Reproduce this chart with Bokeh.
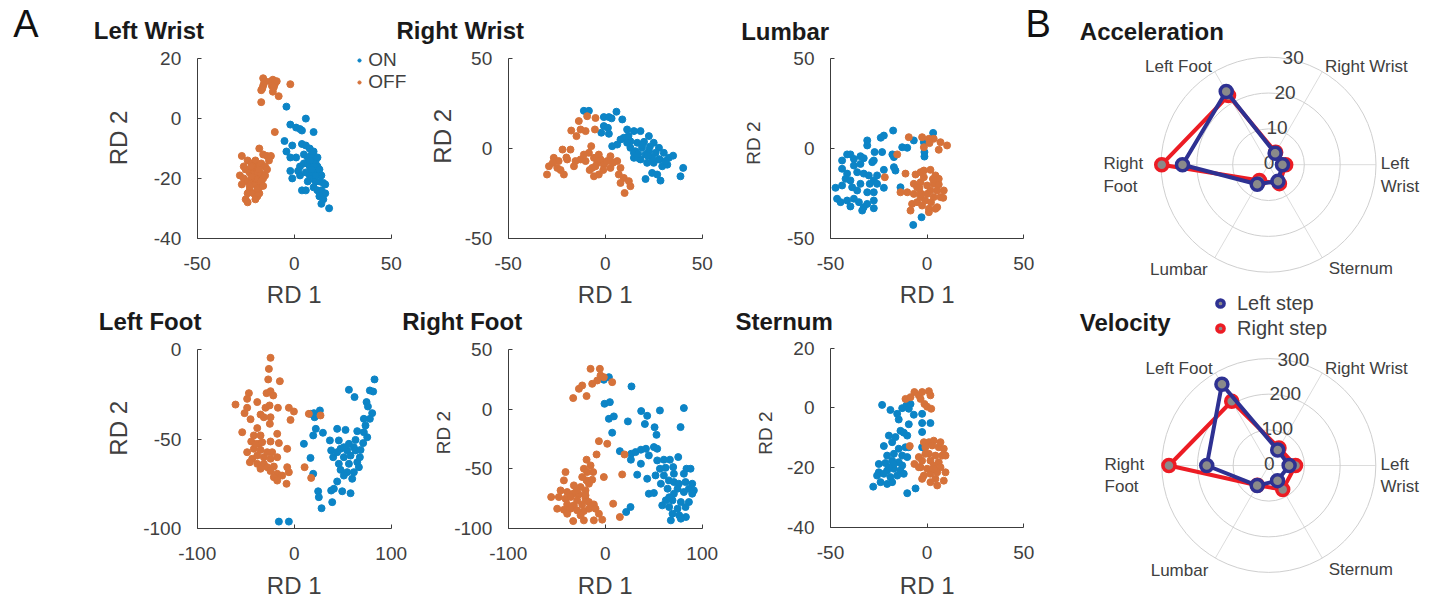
import numpy as np
from bokeh.plotting import figure
from bokeh.models import (Range1d, FixedTicker, Label, Legend, LegendItem, LinearAxis)
from bokeh.embed import file_html
from bokeh.resources import INLINE
from bokeh.core.properties import value

# ---------------- data: panel A (RD scatter) ----------------
lw_on_x = [-4, 6, -2, 1, 4, 3, 10, -5, -1, 4, 6, 8, -4, -2, 1, 5, 7, 9, 10, 3, 5, 7, 8, 10, 11, 12, 2, -2, -1, 3, 6, 8, 10, 12, 14, 9, 11, 13, 15, 4, 6, 10, 12, 14, 16, 13, 15, 14, 18, 10, 12, 9, 11, 7, 16, 13, 8]
lw_on_y = [4, 0, -2, -3, -4, -3.5, -4.5, -7.5, -9, -8.5, -9, -10, -11, -13, -13, -12, -13, -12, -11, -16, -15, -15, -16, -14, -14.5, -16, -17.5, -17.5, -20, -19, -18, -19, -18, -18.5, -19, -20, -21, -21, -21.5, -24, -24, -23, -24, -24, -25, -26, -27, -28.5, -30, -16, -13, -17, -19, -21, -22, -17, -14]
lw_off_x = [-16, -15.5, -16, -16.5, -17, -12, -11, -10, -10, -11.5, -9, -11, -8, -17, -2, -15, -10.5, -10,
            -18, -16, -14, -12, -13, -27, -24, -22, -20, -19, -17, -15, -14, -25, -23, -21, -19, -17, -16, -28, -26, -24, -22, -20, -18, -23, -21, -19, -25, -24, -18, -20, -22, -26, -17, -21, -23, -19, -15, -27, -20, -16, -24, -22, -18]
lw_off_y = [13.5, 12, 11, 10, 9.5, 12.5, 13, 12.5, 11.5, 11, 12.5, 9, 7.5, 5.5, 11.5, 12.5, 10.5, -4.5,
            -10, -12, -12.5, -12.5, -14, -12.5, -14, -15, -14, -16, -15, -16, -17, -17, -18, -18, -19, -18.5, -20, -19, -20, -21, -21.5, -22, -23, -24, -25, -26, -27, -28, -25, -20, -19.5, -16, -21, -16.5, -22.5, -23.5, -19, -22, -27, -22.5, -25, -16, -17]

rw_on_x = [-11, -8.4, -0.7, 1.9, 5.8, 3.3, 8.8, -0.7, 1.4, -2, 1.9, 11.3, 14.8, 18.2, 22.5, 3.6, 6.2, 9.6, 13, 16.5, 20, 25, 27.7, 13, 15.6, 19, 22.5, 26, 30.2, 32.8, 14.8, 18.2, 21.6, 25, 29.4, 32, 40.2, 38.8, 24.2, 26.8, 20.8, 28.5, 16.8, 11.3, 20.8, 24.2, 27.7, 14.8, 7.9, 17, 22, 28, 31, 19, 23, 12, 35]
rw_on_y = [21, 21, 17.5, 17.5, 20.5, 16.8, 16.2, 12.5, 11.5, 8.8, 8.2, 10.6, 9.7, 9.7, 6.9, 1.3, 2.2, 6, 4, 3.2, 3.7, 3.2, 0.4, 0.4, -1.5, 0.4, -1.5, -2.4, -2.4, -5.2, -5.2, -6.1, -8, -8, -9.9, -9, -10.8, -15.5, -13.6, -14.5, -17, -17.9, -5.2, 3.2, -3.4, -5.2, -6.1, -2.4, 5, -3, -4, -6, -7, 2, 1, 7, -4]
rw_off_x = [-9.3, -13.6, -5, -17.5, -12.7, -10.1, -14.8, -5.3, -7.2, -22, -17.9, -26.5, -24, -29, -24.7, -30, -21.3, -19.6, -16.1, -12.7, -10.1, -8.4, -5.8, -4.1, -2.4, -0.7, 2.7, 2.7, 6.2, 7.9, -6.7, -5.8, -3.3, 7, 9.6, 7.9, 13, 10, 12.2, -11, -5, -3.3, 1, -15.3, -27, -23, -8, -1, 4, -20]
rw_off_y = [18, 15.3, 17, 10, 10.6, 9.7, 6.9, 10.6, 1.3, -0.6, -0.6, -5.2, -7, -9.9, -10.8, -14.5, -14.5, -6.1, -9.9, -6.1, -7, -2.4, -5.2, -8, -6.1, -9, -4.3, -10.8, -7, -10.8, -10.8, -15.5, -14.5, -14.5, -16.4, -19.2, -21, -24.8, -18.2, -3.4, -9.9, -3.4, -7, -7, -8, -12, -12, -12, -8, -5]

lu_on_x = [-17.6, -22.4, -24, -31, -31, -23.3, -27.2, -41.4, -39.7, -34.5, -32.8, -44, -37.9, -28.4, -27.6, -18, -17.2, -44, -41.4, -36.2, -32.8, -30.2, -25.9, -22.4, -17.2, -16.4, -42.2, -39.7, -34.5, -27.6, -25.9, -47.4, -44, -38.8, -36.2, -31, -27.6, -22.4, -46.6, -44.8, -41.4, -37.9, -35.3, -32.8, -31, -27.6, -27.6, -39.7, -33.6, -13.8, -10.3, -6.9, -1.7, -1.4, -1.4, 3.1, -2.9, -7.2, -12.9, -37.9, -34.5, -29.7]
lu_on_y = [10, 7.2, 6, 4.5, 1.7, -2, -2, -3.3, -3.3, -4.3, -5.4, -6.7, -9.5, -7.6, -6.7, -3.3, -4.8, -11.3, -14, -13.2, -14, -15, -15, -11.9, -10.4, -12.3, -16.9, -17.8, -19.7, -17.8, -19.7, -21.9, -20.6, -21.6, -23.4, -24.4, -24.4, -21.9, -28, -29.9, -29, -28, -29.9, -32.7, -30.9, -29, -33.3, -32.3, -34.6, -21.6, 0.4, 4.5, 3.5, -2, -4.5, 8.7, -38.3, -42.6, 0.7, -5.8, -8.6, -19.7]
lu_off_x = [-9.5, -2.6, 0.9, 3.4, 6.9, 10.3, 6, -1.7, 1.2, -15.5, -21.9, -11.2, -6, -3.4, -1.7, 1.7, 4.3, -6.9, -3.4, 0, 3.4, 6, 8.6, -13.8, -10.3, -6.9, -3.4, 0, 3.4, 6.9, 8.3, -7.8, -5.2, -2.6, 0.9, 4.3, -8.6, 0.9, 5.2, -3.4, -1.7, -5.2, 1.7, 5.2, -1, 2, -4, 3, 6]
lu_off_y = [6.3, 6.3, 5.4, 5.4, 3.5, 1.7, -0.7, 0.7, 3, -3.3, -16, -14, -14.5, -13.2, -12.3, -11.9, -15, -19.7, -18.8, -20.6, -19.7, -16.9, -23.4, -24.4, -24.4, -25.3, -24.9, -25.3, -27.1, -27.1, -27.5, -30.9, -29.9, -31.8, -33.6, -33.6, -34.6, -35.5, -32.7, -27.1, -16, -21.6, -23.4, -23.4, -29, -30, -22, -17, -20]

lf_on_x = [-15.8, -5.5, 56.4, 62.2, 82.8, 78, 81.4, 74.6, 76, 80.4, 78, 16.8, 20.3, 26.5, 21, 22.3, 29.6, 19.6, 44.3, 52.9, 65, 36.8, 46, 56.4, 63.2, 71.1, 71.8, 73.5, 71.8, 75.3, 10, 38.1, 47.8, 54.6, 63.2, 68.4, 16.8, 40.2, 51.2, 58.1, 67.7, 46, 56.4, 65, 47.8, 54.6, 61.5, 66.7, 19.6, 51.2, 59.8, 44.3, 38.1, 49.5, 58.1, 40.9, 24.7, 25.4, 28.2, 39.2, 51.2, 61.5, 44.3]
lf_on_y = [-96.3, -96.3, -22.4, -26.5, -16.6, -22.8, -23.4, -29.3, -31.8, -35.5, -38.7, -35.9, -35.5, -34, -37.8, -44.3, -46.5, -48, -44.3, -44.9, -45.6, -50.8, -50.8, -52.7, -50.5, -52.3, -38.7, -42.4, -46.2, -49, -52.7, -56.4, -55.5, -56.4, -56.4, -56.1, -60.6, -60.2, -60.2, -59.3, -60.2, -63.9, -63.9, -63, -67.3, -68.6, -68.6, -65.8, -69.5, -70.5, -72.3, -73.8, -78.9, -79.3, -80.4, -77.9, -79.3, -82.6, -88.8, -85.4, -54.6, -54.6, -57.4]
lf_off_x = [-24.4, -26.1, -26.8, -14.8, -28.5, -24.4, -21.6, -46.7, -48.5, -60.5, -48.5, -38.1, -29.6, -25.4, -16.8, -5.5, -0.3, -51.2, -45, -34.7, -31.3, -24.4, -3.8, -25.1, -38.1, -53.6, -41.6, -34.7, -17.5, -44.3, -36.4, -24.4, -15.8, -48.5, -41.6, -34.7, -22.7, -7.2, -43.3, -38.1, -31.3, -24.4, -17.5, -45.7, -38.1, -31.3, -27.8, -21, -7.2, -5.5, -34.7, -24.4, -17.5, -12.4, -21, -17.5, -7.9, 10.7, 17.5, 15.1, 27.1, -39.9, -33, -27.8]
lf_off_y = [-4.5, -10.7, -16.6, -17.6, -24.3, -23.2, -25.6, -24.3, -27.5, -30.7, -32.5, -29.3, -32.5, -31.2, -32.5, -32.5, -34.6, -35.5, -38.9, -36.3, -37.8, -37.8, -39.3, -41.5, -43.9, -46.2, -48, -48, -47.1, -51.4, -52.7, -51.4, -52.3, -57.4, -55.5, -56.1, -57.4, -55.5, -61.1, -59.3, -60.2, -61.1, -60.2, -63, -63.9, -63.9, -65.8, -65.4, -65.8, -68.6, -66.7, -68, -69.5, -70.5, -71.4, -73.3, -75.1, -65.8, -71.8, -35.9, -36.8, -52.7, -51.8, -57.4]

rf_on_x = [-1.4, 3.8, 27.1, -0.7, 4.8, 3.8, 8.9, 23.4, 37.1, 56.4, 81.1, 43.3, 40.9, 50.9, 77.7, 7.2, 52.9, 15.1, 26.8, 31.3, 36.8, 42, 50.2, 53.6, 36.8, 26.5, 45, 53.6, 60.5, 66.7, 75.3, 56.4, 62.2, 70.1, 83.8, 88, 33, 43.3, 51.9, 60.5, 65.6, 70.8, 75.9, 82.8, 89.7, 57.4, 64.3, 74.6, 86.3, 91.4, 45, 50.2, 70.8, 81.1, 89.7, 62.5, 69.4, 78, 86.3, 65.9, 74.6, 82.8, 69.4, 76.3, 83.2, 67.7, 78, 26.1, 21.6, 70.8, 81.1, 66, 58.8]
rf_on_y = [24.8, 27, 19.2, 4.6, 6, -8, -6, -10.2, -1.5, -1, 1, -5.5, -12.4, -15.1, -15, -19.7, -21.5, -35.2, -37.4, -36, -34, -33.2, -31.8, -33.2, -45.8, -42.4, -38.8, -43, -42.4, -42.4, -40.2, -50, -49.2, -48.6, -50, -50, -55, -58.4, -55.6, -55.6, -59.8, -61.2, -62.6, -61.2, -62.6, -62.6, -66.8, -66.8, -66.8, -68.2, -71, -70.4, -71, -69.6, -71, -76.6, -76.6, -78, -78, -82.2, -83.6, -82.2, -87.8, -89.2, -90.6, -93.4, -92, -82.2, -86.4, -54.2, -54.2, -74, -80.8]
rf_off_x = [-15.1, -5.5, -4.8, -8.2, -13.4, -23.7, -27.1, -19.2, -33, 7.2, -1.4, -6.5, 2.1, -8.9, 19.9, -19.2, -15.1, -22, -18.6, -12.4, -40.9, 17.5, -1.4, -42.6, -19.2, -16.8, -32.3, -25.4, -46, -39.2, -20.3, -33, -27.1, -55.7, -47.8, -40.9, -35.7, -28.9, -20.3, -16.8, -39.2, -32.3, -23.7, -11.7, 8.2, -49.5, -42.6, -35.7, -28.9, -22, -16.8, -10, -6.5, -33, -22, -11.7, -3.1, 15.1, -25.4, -39.2, -20.3, -29.6, -23.7, -13.4]
rf_off_y = [34, 34, 28.4, 24.2, 21.4, 20, 17.2, 11.1, 9.4, 22.8, 27, -26.8, -29, -38, -38, -42.4, -47.2, -50, -52.8, -52.8, -52.8, -54.8, -57, -59.8, -59.8, -62.6, -64, -65.4, -68.2, -69.6, -68.2, -71, -71.6, -73.8, -73.8, -75.2, -73.8, -76.6, -75.2, -78, -80, -80.8, -80, -80, -79.4, -83.6, -84.5, -83.6, -85, -85.6, -83.6, -83.6, -87.8, -94, -93.4, -93.4, -92.8, -90.6, -89.2, -87.8, -72.4, -68.2, -57, -59.2]

st_on_x = [-23.3, -19, -15.5, -12.9, -10.7, -9.5, -8.6, -6.9, -2.6, -2.6, 1.7, -14.7, -9.5, -2.6, -13.8, -12.1, -19.8, -16.4, -10.3, -9.5, -2.6, -22.4, -18.1, -14.7, -11.2, -20.7, -17.2, -12.9, -10.3, -25, -21.6, -18.1, -14.7, -25, -20.7, -17.2, -13.8, -25.9, -22.4, -19, -15.5, -12.1, -24.1, -20.7, -18.1, -27.9, -10.3, -6, -17.2, -12.9, -19.8]
st_on_y = [1, -0.7, -2, -0.1, 0.8, -0.3, 1.3, -2.3, -2, -5.1, -5.1, -3.9, -5.5, -8.1, -7.7, -8.3, -9.3, -9.8, -9.3, -13.2, -13.2, -12.8, -11.5, -13.7, -13.2, -16, -15.4, -16, -16.5, -18.8, -18.5, -17.7, -18.2, -21.6, -21, -20.4, -21, -22.7, -22.1, -23.2, -22.7, -22.1, -24.9, -25.5, -24.9, -26.4, -28.6, -27, -18.8, -19.3, -19.9]
st_off_x = [-11.2, -8.6, -6.6, -4.3, -2.6, 0.9, 1.7, -3.4, -1.4, 0, 2.1, -9, -1.7, 0.9, 3.4, 6.9, -0.9, 2.6, 6, 8.6, -4.3, 0.9, 4.3, 7.8, 9.5, -6.6, -2.6, 1.7, 6, -3.4, 0, 3.4, 6.9, -1.7, 1.7, 5.2, 9.5, 4.3, 8.6, 1.7, -2.6, 5.2, 3.4, -0.9, -4.3]
st_off_y = [3, 3.6, 5.3, 4.2, 5.3, 5.6, 4.2, 3, 1.3, 0.4, -0.3, -12.8, -11.5, -11.5, -11, -11.5, -13.2, -12.6, -13.2, -13.7, -16.5, -15.4, -16, -16, -16, -18.8, -17.7, -17.7, -18.2, -19.9, -20.4, -19.3, -19.9, -22.7, -22.1, -21.6, -21.6, -23.8, -24.4, -24.9, -23.8, -26, -20.4, -15.4, -19.9]

# ---------------- data: panel B (radar) ----------------
sensors = ["Left Wrist", "Right Wrist", "Left Foot", "Right Foot", "Lumbar", "Sternum"]
acc_left_step = [3.9, 3.7, 23.6, 24.0, 6.3, 5.3]
acc_right_step = [4.8, 4.0, 22.3, 29.8, 5.1, 6.1]
acc_ticks = [0, 10, 20, 30]
vel_left_step = [57, 50, 263, 174, 65, 49]
vel_right_step = [75, 57, 208, 280, 64, 78]
vel_ticks = [0, 100, 200, 300]

# ---------------- style / layout ----------------
W, H = 1434, 598
FONT = "Liberation Sans"
TXT = "#404040"
AXC = "#3c3c3c"
ON_C = "#0C84C6"
OFF_C = "#D6723A"
BLUE = "#2E3192"
RED = "#EC1C24"
GRAY = "#8A8A8A"

p = figure(width=W, height=H, x_range=Range1d(0, W), y_range=Range1d(H, 0),
           x_axis_location=None, y_axis_location=None, min_border=0,
           output_backend="svg", toolbar_location=None)
p.grid.visible = False
p.outline_line_color = None


def x_map(lo, hi, left, right):
    k = (hi - lo) / (right - left)
    return Range1d(lo - left * k, hi + (W - right) * k)


def y_map(lo, hi, bottom, top):
    k = (hi - lo) / (bottom - top)
    return Range1d(lo - (H - bottom) * k, hi + top * k)


def text_label(x, y, text, size, bold=False, align="left", angle=0.0, color=TXT):
    p.add_layout(Label(x=x, y=y, text=text, text_align=align, text_baseline="middle",
                       text_font=FONT, text_font_size=size, angle=angle,
                       text_font_style="bold" if bold else "normal", text_color=color))


def style_axis(ax, ticks):
    ax.ticker = FixedTicker(ticks=ticks)
    ax.major_label_overrides = {t: str(t) for t in ticks}
    ax.minor_tick_line_color = None
    ax.major_tick_in = 4
    ax.major_tick_out = 0
    ax.axis_line_color = AXC
    ax.major_tick_line_color = AXC
    ax.major_label_text_font = FONT
    ax.major_label_text_font_size = "19px"
    ax.major_label_text_color = TXT


def scatter_panel(key, frame, xlim, ylim, xticks, yticks, on, off, title, title_xy, ylab_xy, ylab_size, xlab_y):
    left, right, top, bottom = frame
    xn, yn = key + "_x", key + "_y"
    p.extra_x_ranges[xn] = x_map(xlim[0], xlim[1], left, right)
    p.extra_y_ranges[yn] = y_map(ylim[0], ylim[1], bottom, top)
    xa = LinearAxis(x_range_name=xn, y_range_name=yn, fixed_location=ylim[0], bounds=xlim,
                    major_label_standoff=19)
    style_axis(xa, xticks)
    p.add_layout(xa, "below")
    ya = LinearAxis(x_range_name=xn, y_range_name=yn, fixed_location=xlim[0], bounds=ylim,
                    major_label_standoff=16)
    style_axis(ya, yticks)
    p.add_layout(ya, "left")
    r_on = p.scatter(on[0], on[1], size=7, color=ON_C, x_range_name=xn, y_range_name=yn)
    r_off = p.scatter(off[0], off[1], size=7, color=OFF_C, x_range_name=xn, y_range_name=yn)
    text_label((left + right) / 2, xlab_y, "RD 1", "24px", align="center")
    text_label(ylab_xy[0], ylab_xy[1], "RD 2", ylab_size, align="center", angle=np.pi / 2)
    text_label(title_xy[0], title_xy[1], title, "24px", bold=True, color="#1a1a1a")
    return r_on, r_off


on_r, off_r = scatter_panel("lw", (196.7, 390.7, 58.3, 237.7), (-50, 50), (-40, 20), [-50, 0, 50], [-40, -20, 0, 20],
                            (lw_on_x, lw_on_y), (lw_off_x, lw_off_y), "Left Wrist", (93.3, 30), (117.8, 137.5), "24px", 293.5)
scatter_panel("rw", (507.7, 701.7, 58.3, 237.7), (-50, 50), (-50, 50), [-50, 0, 50], [-50, 0, 50],
              (rw_on_x, rw_on_y), (rw_off_x, rw_off_y), "Right Wrist", (396, 30), (441.7, 135.8), "24px", 293.5)
scatter_panel("lu", (830, 1023.3, 58.3, 237.7), (-50, 50), (-50, 50), [-50, 0, 50], [-50, 0, 50],
              (lu_on_x, lu_on_y), (lu_off_x, lu_off_y), "Lumbar", (740.7, 30.8), (753.3, 142.5), "19px", 293.5)
scatter_panel("lf", (196.7, 390.7, 349.3, 527.7), (-100, 100), (-100, 0), [-100, 0, 100], [-100, -50, 0],
              (lf_on_x, lf_on_y), (lf_off_x, lf_off_y), "Left Foot", (98.3, 321.3), (117.8, 427.8), "24px", 585)
scatter_panel("rf", (507.7, 701.7, 349.3, 527.7), (-100, 100), (-100, 50), [-100, 0, 100], [-100, -50, 0, 50],
              (rf_on_x, rf_on_y), (rf_off_x, rf_off_y), "Right Foot", (401.7, 321.3), (443.3, 432), "19px", 585)
scatter_panel("st", (830, 1023.3, 347.7, 526.7), (-50, 50), (-40, 20), [-50, 0, 50], [-40, -20, 0, 20],
              (st_on_x, st_on_y), (st_off_x, st_off_y), "Sternum", (735, 320.8), (765, 432.5), "19px", 585)

p.add_layout(Legend(items=[LegendItem(label="ON", renderers=[on_r]),
                           LegendItem(label="OFF", renderers=[off_r])],
                    location=(355.3, 505), glyph_width=8, glyph_height=18, label_height=18,
                    label_standoff=5, spacing=-6, padding=0, margin=0,
                    border_line_color=None, background_fill_alpha=0,
                    label_text_font=FONT, label_text_font_size="19px", label_text_color=TXT))

text_label(12.7, 23.7, "A", "38px", color="#111111")
text_label(1025, 23.7, "B", "38px", color="#111111")

# ---------------- radar panels ----------------
LABEL_SPEC = {  # radius factor, horizontal alignment
    "Left Wrist": (1.045, "left"), "Right Wrist": (1.05, "left"), "Left Foot": (1.05, "right"),
    "Right Foot": (1.535, "left"), "Lumbar": (1.13, "right"), "Sternum": (1.12, "left"),
}
TWO_LINE = {"Left Wrist": "Left\nWrist", "Right Foot": "Right\nFoot"}


def radar(key, cx, cy, R, rticks, left_vals, right_vals, title, title_xy):
    rmax = rticks[-1]
    xn, yn = key + "_x", key + "_y"
    p.extra_x_ranges[xn] = Range1d(-cx / R, (W - cx) / R)
    p.extra_y_ranges[yn] = Range1d(-(H - cy) / R, cy / R)
    kw = dict(x_range_name=xn, y_range_name=yn)
    ang = np.deg2rad(np.arange(len(sensors)) * 60.0)
    p.segment(x0=np.zeros(len(ang)), y0=np.zeros(len(ang)), x1=np.cos(ang), y1=np.sin(ang),
              line_color="#dcdcdc", line_width=1, **kw)
    rings = np.array(rticks[1:], dtype=float) / rmax
    p.circle(x=np.zeros(len(rings)), y=np.zeros(len(rings)), radius=rings,
             fill_color=None, line_color="#cfcfcf", line_width=1, **kw)
    ta = np.deg2rad(77)
    rr = np.array(rticks, dtype=float) / rmax + 0.02
    p.text(x=rr * np.cos(ta), y=rr * np.sin(ta), text=[str(t) for t in rticks],
           text_align="center", text_baseline="middle", text_font=value(FONT),
           text_font_size="19px", text_color=TXT, **kw)
    for name, a in zip(sensors, ang):
        fr, al = LABEL_SPEC[name]
        txt = TWO_LINE.get(name, name)
        p.text(x=[fr * np.cos(a)], y=[fr * np.sin(a)], text=[txt], text_align=al,
               text_baseline="middle", text_font=value(FONT), text_font_size="17px",
               text_color=TXT, y_offset=10 if "\n" in txt else 0, **kw)
    rends = {}
    for vals, col, k in ((right_vals, RED, "r"), (left_vals, BLUE, "l")):
        rv = np.array(vals, dtype=float) / rmax
        xs, ys = rv * np.cos(ang), rv * np.sin(ang)
        p.line(np.append(xs, xs[0]), np.append(ys, ys[0]), line_color=col, line_width=4, **kw)
        rends[k] = p.scatter(xs, ys, size=12, fill_color=GRAY, line_color=col, line_width=3.5, **kw)
    text_label(title_xy[0], title_xy[1], title, "24px", bold=True, color="#1a1a1a")
    return rends


radar("acc", 1268, 164.2, 107.5, acc_ticks, acc_left_step, acc_right_step, "Acceleration", (1079.3, 30.5))
vel = radar("vel", 1268.3, 465, 107, vel_ticks, vel_left_step, vel_right_step, "Velocity", (1079.3, 321.5))
p.add_layout(Legend(items=[LegendItem(label="Left step", renderers=[vel["l"]]),
                           LegendItem(label="Right step", renderers=[vel["r"]])],
                    location=(1211, 258.1), glyph_width=18, glyph_height=20, label_height=20,
                    label_standoff=8, spacing=2, padding=0, margin=0,
                    border_line_color=None, background_fill_alpha=0,
                    label_text_font=FONT, label_text_font_size="20px", label_text_color=TXT))

open("out.html", "w").write(file_html(p, INLINE))
